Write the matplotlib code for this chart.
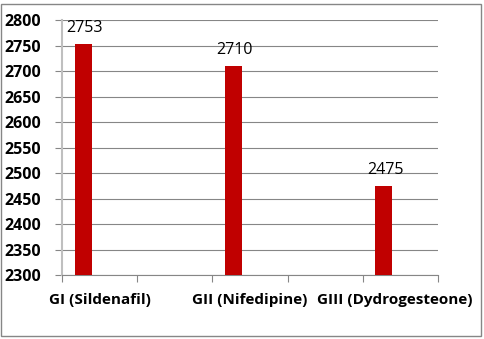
import numpy as np
import matplotlib.pyplot as plt
from matplotlib.patches import Rectangle

# data
groups = ["GI (Sildenafil)", "GII (Nifedipine)", "GIII (Dydrogesteone)"]
values = [2753, 2710, 2475]
y_ticks = list(range(2300, 2801, 50))

plt.rcParams["font.family"] = ["Open Sans", "DejaVu Sans"]

fig = plt.figure(figsize=(4.84, 3.39), dpi=100)
ax = fig.add_axes([62 / 484, 64 / 339, 376 / 484, 255 / 339])

# five slots on the axis, groups on every other one; bar sits left of the slot centre
n_slots = 2 * len(groups) - 1
slots = np.arange(len(groups)) * 2
bar_x = slots - 0.22
ax.bar(bar_x, values, width=0.227, color="#C00000", zorder=3)
for x, v in zip(bar_x, values):
    ax.text(x + 0.02, v + 16, str(v), ha="center", va="bottom", fontsize=11.5, color="black")

ax.set_ylim(2300, 2800)
ax.set_yticks(y_ticks)
ax.set_xlim(-0.5, n_slots - 0.5)

# boundary ticks (major) without labels, group labels on minor ticks
ax.set_xticks(np.arange(-0.5, n_slots, 1.0))
ax.set_xticklabels([])
# last label is nudged left so it stays inside the chart, like the original
label_x = slots.astype(float)
label_x[-1] -= 0.08
ax.set_xticks(label_x, minor=True)
ax.set_xticklabels(groups, minor=True, fontsize=11, fontweight="bold")
ax.tick_params(axis="x", which="minor", length=0, pad=13)
ax.tick_params(axis="x", which="major", length=5, color="#868686", width=0.8)
ax.tick_params(axis="y", length=5, color="#868686", width=0.8, pad=10, labelsize=11.5)
for lab in ax.get_yticklabels():
    lab.set_fontweight("bold")

ax.grid(axis="y", color="#868686", linewidth=0.8, zorder=0)
for s in ["top", "right"]:
    ax.spines[s].set_visible(False)
ax.spines["left"].set_color("#BFBFBF")
ax.spines["left"].set_linewidth(1.5)
ax.spines["bottom"].set_color("#868686")
ax.spines["bottom"].set_linewidth(0.8)

# outer chart border
fig.patches.append(Rectangle((1 / 484, 3 / 339), 480 / 484, 332 / 339,
                             transform=fig.transFigure, fill=False,
                             edgecolor="#868686", linewidth=1))

fig.savefig("out.png", dpi=100)
